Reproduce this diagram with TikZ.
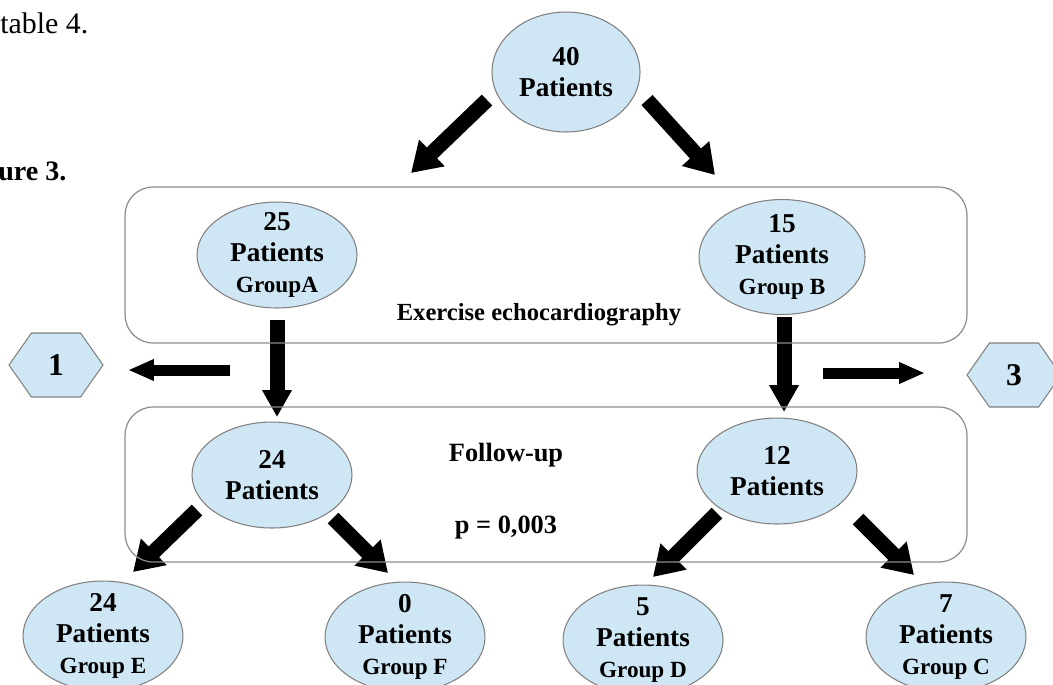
\documentclass[tikz,border=0pt]{standalone}
\usepackage{fontspec}
\setmainfont{Liberation Serif}
\usetikzlibrary{shapes.geometric,shapes.symbols,arrows.meta}

\definecolor{pale}{HTML}{CFE7F5}
\definecolor{rim}{HTML}{808080}
\tikzset{
  pat/.style={ellipse,draw=rim,line width=0.6pt,fill=pale,inner xsep=0pt,inner ysep=-6pt,
    align=center,font=\bfseries\fontsize{15.5}{17.5}\selectfont,minimum width=3.2cm,minimum height=2.12cm},
  hexa/.style={signal,signal to=west and east,signal pointer angle=110,draw=rim,fill=pale,
    line width=0.6pt,minimum width=1.88cm,minimum height=1.28cm,inner sep=0pt,
    font=\bfseries\fontsize{18}{20}\selectfont},
  panel/.style={draw=rim!90,line width=0.7pt,rounded corners=0.56cm,inner sep=0pt},
  arr/.style={line width=0.3cm,-{Triangle[width=0.7cm,length=0.58cm]}},
  downarr/.style={line width=0.3cm,-{Triangle[width=0.56cm,length=0.54cm]}},
  sidearr/.style={line width=0.22cm,-{Triangle[width=0.4cm,length=0.52cm]}},
  lbl/.style={font=\bfseries\fontsize{15}{17}\selectfont,inner sep=0pt}
}
\newcommand\grp[1]{{\fontsize{13.2}{15}\selectfont #1}}

\begin{document}
\begin{tikzpicture}[x=0.02cm,y=-0.02cm]
\useasboundingbox (0,0) rectangle (1053,684);
\node[anchor=base west,inner sep=0pt,font=\fontsize{17}{20}\selectfont] (note) at (0,33) {table 4.};
\node[anchor=base west,inner sep=0pt,font=\bfseries\fontsize{16}{19}\selectfont] (cap) at (-2,180) {ure 3.};

\coordinate (s1) at (487,100); \coordinate (t1) at (411,173);
\coordinate (s2) at (647,100); \coordinate (t2) at (715,175);
\coordinate (s3) at (277,320); \coordinate (t3) at (277,417);
\coordinate (s4) at (784,317); \coordinate (t4) at (784,412);
\coordinate (s5) at (230,370); \coordinate (t5) at (128,370);
\coordinate (s6) at (823,373); \coordinate (t6) at (925,373);
\coordinate (s7) at (197,510); \coordinate (t7) at (133,572);
\coordinate (s8) at (333,518); \coordinate (t8) at (388,573);
\coordinate (s9) at (717,513); \coordinate (t9) at (653,577);
\coordinate (s10) at (858,519); \coordinate (t10) at (914,575);

\draw[arr] (s1)--(t1);
\draw[arr] (s2)--(t2);
\draw[downarr] (s3)--(t3);
\draw[downarr] (s4)--(t4);
\draw[sidearr] (s5)--(t5);
\draw[sidearr] (s6)--(t6);
\draw[arr] (s7)--(t7);
\draw[arr] (s8)--(t8);
\draw[arr] (s9)--(t9);
\draw[arr] (s10)--(t10);

\node[panel,minimum width=16.84cm,minimum height=3.12cm] (echo) at (546,265) {};
\node[panel,minimum width=16.84cm,minimum height=3.1cm] (follow) at (546,484.5) {};
\node[lbl,font=\bfseries\fontsize{14}{16}\selectfont] (echolbl) at (539,315) {Exercise echocardiography};
\node[lbl] (followlbl) at (506,455) {Follow-up};
\node[lbl] (pval) at (506,528) {p = 0,003};

\node[pat,minimum width=2.96cm,minimum height=2.4cm] (all) at (566,72) {40\\Patients};
\node[pat] (grpA) at (277,255) {25\\Patients\\\grp{GroupA}};
\node[pat,minimum width=3.32cm,minimum height=2.3cm] (grpB) at (782,257) {15\\Patients\\\grp{Group B}};
\node[pat] (fuA) at (272,475) {24\\Patients};
\node[pat] (fuB) at (777,471) {12\\Patients};
\node[pat,minimum height=2.2cm] (grpE) at (103,636) {24\\Patients\\\grp{Group E}};
\node[pat,minimum height=2.2cm] (grpF) at (405,637) {0\\Patients\\\grp{Group F}};
\node[pat,minimum height=2.2cm] (grpD) at (643,640) {5\\Patients\\\grp{Group D}};
\node[pat,minimum height=2.2cm] (grpC) at (946,637) {7\\Patients\\\grp{Group C}};

\node[hexa] (lost) at (56,365) {1};
\node[hexa] (drop) at (1014,375) {3};
\end{tikzpicture}
\end{document}
